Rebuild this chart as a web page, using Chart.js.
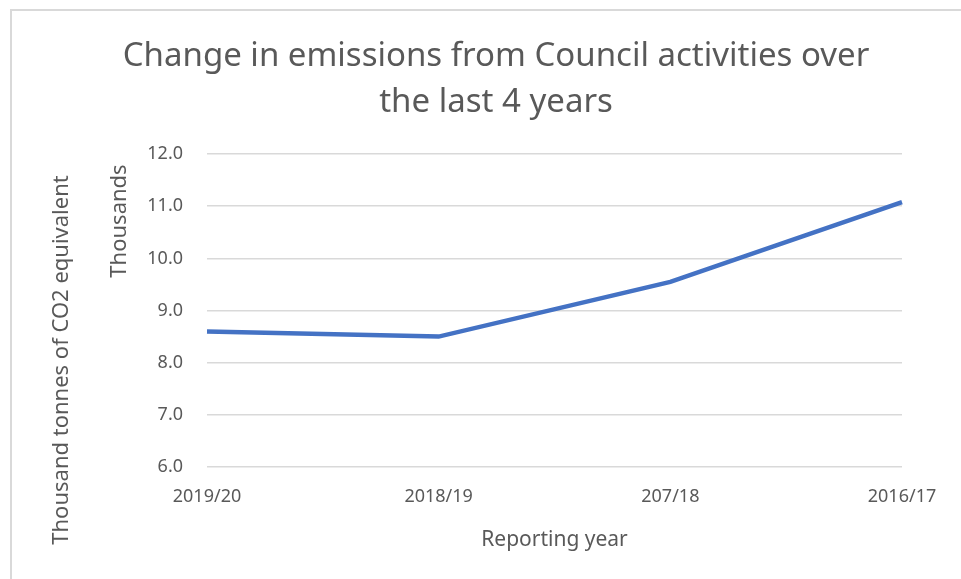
<!DOCTYPE html>
<html>
<head>
    <title>Change in emissions from Council activities</title>
    <script src="https://cdn.jsdelivr.net/npm/chart.js"></script>
    <style>
        body {
            margin: 0;
            background-color: #ffffff;
            font-family: "Noto Sans", Arial, sans-serif;
        }
        .frame {
            position: absolute;
            left: 10px;
            top: 9px;
            width: 980px;
            height: 600px;
            border-top: 2px solid #d9d9d9;
            border-left: 2px solid #d9d9d9;
        }
        .chart-container {
            position: absolute;
            left: 0;
            top: 0;
            width: 961px;
            height: 579px;
        }
    </style>
</head>
<body>
    <div class="frame"></div>
    <div class="chart-container">
        <canvas id="lineChart" width="961" height="579"></canvas>
    </div>

    <script>
        // values (thousands of tonnes CO2e)
        const years = ['2019/20', '2018/19', '207/18', '2016/17'];
        const emissions = [8.6, 8.5, 9.55, 11.08];
        const titleLines = ['Change in emissions from Council activities over', 'the last 4 years'];

        const textColor = '#595959';
        const fontFamily = "'Noto Sans', Arial, sans-serif";

        // the two rotated axis captions on the left
        const sideTitles = {
            id: 'sideTitles',
            afterDraw(chart) {
                const ctx = chart.ctx;
                const captions = [
                    { text: 'Thousand tonnes of CO2 equivalent', x: 62, y: 360 },
                    { text: 'Thousands', x: 120, y: 221 }
                ];
                captions.forEach(c => {
                    ctx.save();
                    ctx.fillStyle = textColor;
                    ctx.textAlign = 'center';
                    ctx.textBaseline = 'middle';
                    ctx.font = '22px ' + fontFamily;
                    ctx.translate(c.x, c.y);
                    ctx.rotate(-Math.PI / 2);
                    ctx.fillText(c.text, 0, 0);
                    ctx.restore();
                });
            }
        };

        const ctx = document.getElementById('lineChart').getContext('2d');
        new Chart(ctx, {
            type: 'line',
            data: {
                labels: years,
                datasets: [{
                    label: 'Emissions',
                    data: emissions,
                    borderColor: '#4472C4',
                    borderWidth: 4.5,
                    pointRadius: 0,
                    tension: 0,
                    fill: false
                }]
            },
            plugins: [sideTitles],
            options: {
                responsive: false,
                animation: false,
                layout: {
                    padding: { left: 90, right: 59, top: 0, bottom: 26 }
                },
                plugins: {
                    legend: { display: false },
                    tooltip: { enabled: false },
                    title: {
                        display: true,
                        text: titleLines,
                        color: textColor,
                        font: { size: 33, weight: 'normal', family: fontFamily, lineHeight: 1.38 },
                        padding: { top: 34, bottom: 29 }
                    }
                },
                scales: {
                    x: {
                        offset: false,
                        grid: { display: false, drawTicks: false },
                        border: { display: false },
                        ticks: {
                            color: textColor,
                            font: { size: 18, family: fontFamily },
                            padding: 19,
                            maxRotation: 0
                        },
                        title: {
                            display: true,
                            text: 'Reporting year',
                            color: textColor,
                            font: { size: 21, family: fontFamily },
                            padding: { top: 12, bottom: 0 }
                        },
                        afterFit(scale) {
                            scale.height = 86;
                        }
                    },
                    y: {
                        min: 6,
                        max: 12,
                        grid: { color: '#d9d9d9', lineWidth: 1.5, drawTicks: false },
                        border: { display: false },
                        ticks: {
                            stepSize: 1,
                            color: textColor,
                            font: { size: 18, family: fontFamily },
                            padding: 24,
                            callback: v => v.toFixed(1)
                        },
                        afterFit(scale) {
                            scale.width = 117;
                        }
                    }
                }
            }
        });
    </script>
</body>
</html>
